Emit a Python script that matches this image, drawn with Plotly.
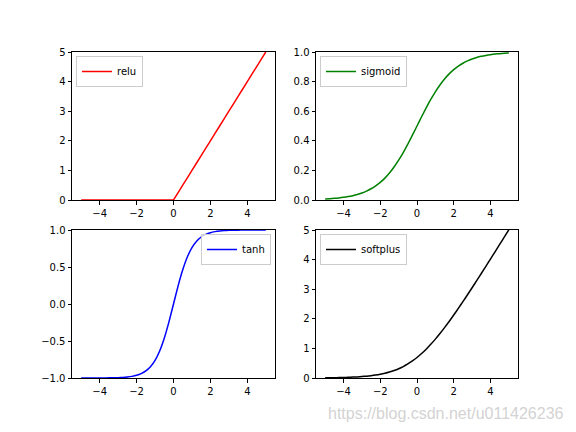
import plotly.graph_objects as go

# data
x = [-5.0, -4.75, -4.5, -4.25, -4.0, -3.75, -3.5, -3.25, -3.0, -2.75, -2.5, -2.25,
     -2.0, -1.75, -1.5, -1.25, -1.0, -0.75, -0.5, -0.25, 0.0,
     0.25, 0.5, 0.75, 1.0, 1.25, 1.5, 1.75, 2.0, 2.25, 2.5, 2.75,
     3.0, 3.25, 3.5, 3.75, 4.0, 4.25, 4.5, 4.75, 5.0]
relu_y = [0, 0, 0, 0, 0, 0, 0, 0, 0, 0, 0, 0, 0, 0, 0, 0, 0, 0, 0, 0, 0,
          0.25, 0.5, 0.75, 1.0, 1.25, 1.5, 1.75, 2.0, 2.25, 2.5, 2.75,
          3.0, 3.25, 3.5, 3.75, 4.0, 4.25, 4.5, 4.75, 5.0]
sigmoid_y = [0.0067, 0.0086, 0.0110, 0.0141, 0.0180, 0.0230, 0.0293, 0.0373, 0.0474,
             0.0601, 0.0759, 0.0953, 0.1192, 0.1480, 0.1824, 0.2227, 0.2689, 0.3208,
             0.3775, 0.4378, 0.5,
             0.5622, 0.6225, 0.6792, 0.7311, 0.7773, 0.8176, 0.8520, 0.8808, 0.9047,
             0.9241, 0.9399, 0.9526, 0.9627, 0.9707, 0.9770, 0.9820, 0.9859, 0.9890,
             0.9914, 0.9933]
tanh_y = [-0.9999, -0.9999, -0.9998, -0.9996, -0.9993, -0.9989, -0.9982, -0.9970,
          -0.9951, -0.9919, -0.9866, -0.9780, -0.9640, -0.9414, -0.9051, -0.8483,
          -0.7616, -0.6351, -0.4621, -0.2449, 0.0,
          0.2449, 0.4621, 0.6351, 0.7616, 0.8483, 0.9051, 0.9414, 0.9640, 0.9780,
          0.9866, 0.9919, 0.9951, 0.9970, 0.9982, 0.9989, 0.9993, 0.9996, 0.9998,
          0.9999, 0.9999]
softplus_y = [0.0067, 0.0086, 0.0110, 0.0142, 0.0181, 0.0232, 0.0298, 0.0380, 0.0486,
              0.0619, 0.0789, 0.1002, 0.1269, 0.1602, 0.2014, 0.2519, 0.3133, 0.3869,
              0.4741, 0.5759, 0.6931,
              0.8259, 0.9741, 1.1369, 1.3133, 1.5019, 1.7014, 1.9102, 2.1269, 2.3502,
              2.5789, 2.8119, 3.0486, 3.2880, 3.5298, 3.7732, 4.0181, 4.2642, 4.5110,
              4.7586, 5.0067]

names = ["relu", "sigmoid", "tanh", "softplus"]
colors = ["#ff0000", "#008000", "#0000ff", "#000000"]
series = [relu_y, sigmoid_y, tanh_y, softplus_y]
yranges = [[0, 5], [0, 1], [-1, 1], [0, 5]]
yticks = [[0, 1, 2, 3, 4, 5], [0, 0.2, 0.4, 0.6, 0.8, 1.0],
          [-1.0, -0.5, 0.0, 0.5, 1.0], [0, 1, 2, 3, 4, 5]]
yfmts = ["d", ".1f", ".1f", "d"]

W, H = 576, 432
xdoms = [[72 / W, 275 / W], [316 / W, 518 / W], [72 / W, 275 / W], [316 / W, 518 / W]]
ydoms = [[1 - 200 / H, 1 - 52 / H], [1 - 200 / H, 1 - 52 / H],
         [1 - 378 / H, 1 - 230 / H], [1 - 378 / H, 1 - 230 / H]]
legpos = ["left", "left", "right", "left"]

fig = go.Figure()
layout = dict(width=W, height=H,
              margin=dict(l=0, r=0, t=0, b=0, pad=0, autoexpand=False),
              paper_bgcolor="white", plot_bgcolor="white",
              font=dict(family="DejaVu Sans", size=10, color="black"),
              showlegend=True)

for i in range(4):
    n = "" if i == 0 else str(i + 1)
    leg = "legend" if i == 0 else f"legend{i + 1}"
    fig.add_trace(go.Scatter(x=x, y=series[i], mode="lines", name=names[i],
                             line=dict(color=colors[i], width=1.5, simplify=False,
                                       shape="linear" if i == 0 else "spline",
                                       smoothing=0.6),
                             xaxis=f"x{n}", yaxis=f"y{n}", legend=leg))
    axcommon = dict(showgrid=False, zeroline=False, showline=True, linecolor="black",
                    linewidth=1, mirror=True, ticks="outside", ticklen=3.5,
                    tickwidth=0.8, tickcolor="black", automargin=False,
                    tickfont=dict(family="DejaVu Sans", size=10, color="black"))
    layout[f"xaxis{n}"] = dict(domain=xdoms[i], range=[-5.5, 5.5],
                               tickvals=[-4, -2, 0, 2, 4], anchor=f"y{n}", **axcommon)
    layout[f"yaxis{n}"] = dict(domain=ydoms[i], range=yranges[i], tickvals=yticks[i],
                               tickformat=yfmts[i], anchor=f"x{n}", **axcommon)
    if legpos[i] == "left":
        lx, xanchor = xdoms[i][0] + 4 / W, "left"
    else:
        lx, xanchor = xdoms[i][1] - 4 / W, "right"
    layout[leg] = dict(x=lx, y=ydoms[i][1] - 4 / H, xanchor=xanchor, yanchor="top",
                       bgcolor="rgba(255,255,255,0.8)", bordercolor="#cccccc",
                       borderwidth=1, font=dict(family="DejaVu Sans", size=10),
                       itemwidth=30, tracegroupgap=0)

fig.update_layout(**layout)
fig.add_annotation(text="https://blog.csdn.net/u011426236", xref="paper", yref="paper",
                   x=566 / W, y=1 - 413 / H, xanchor="right", yanchor="middle",
                   showarrow=False,
                   font=dict(family="Liberation Sans", size=16, color="rgba(205,205,205,0.9)"))

post = ("var d=document.getElementById('{plot_id}');"
        "d.style.position='fixed';d.style.top='0px';d.style.left='0px';"
        "document.body.style.margin='0';document.body.style.overflow='hidden';"
        "document.documentElement.style.overflow='hidden';"
        "document.body.style.height='432px';")
fig.write_html("out.html", config={"displayModeBar": False}, post_script=post)
